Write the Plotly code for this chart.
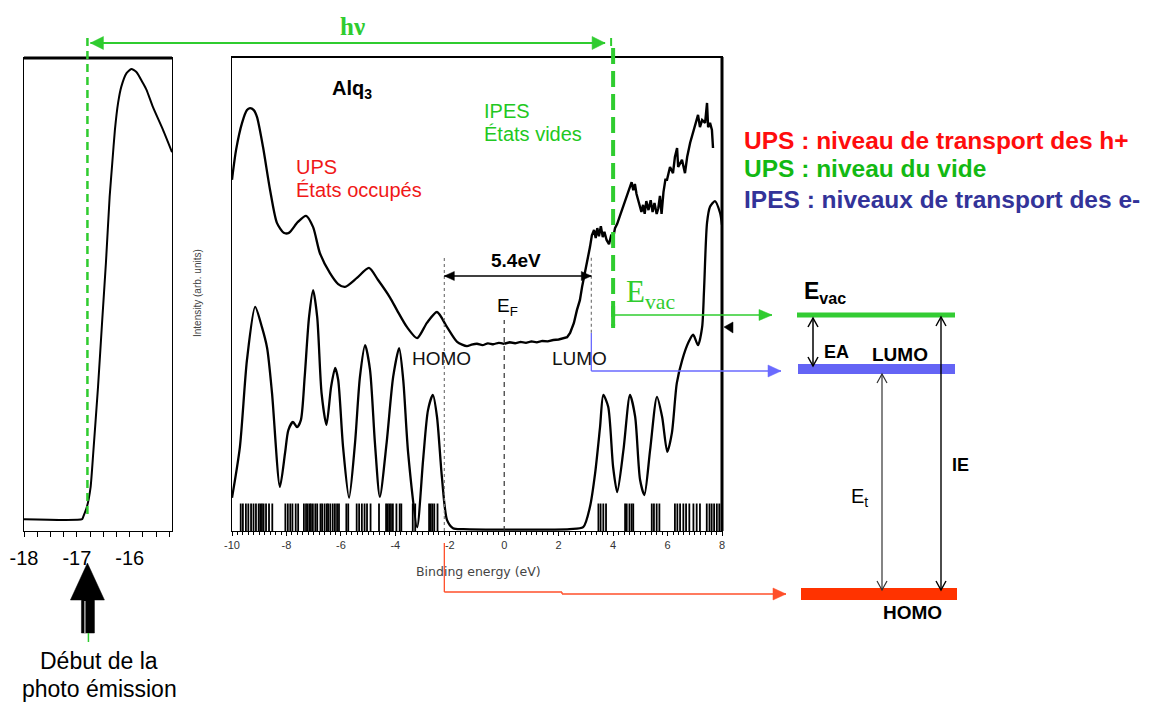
import math
import plotly.graph_objects as go

W, H = 1154, 704

# ---------------- spectra ----------------
# secondary-electron cut-off (left panel), intensity in arb. units
cutoff_ev = [-18.0, -16.9, -16.88, -16.81, -16.74, -16.69, -16.60, -16.52, -16.45, -16.38,
             -16.33, -16.28, -16.22, -16.16, -16.06, -15.97, -15.87, -15.75, -15.68, -15.56,
             -15.37, -15.20]
cutoff_int = [2.5, 2.5, 3.0, 5.1, 9.3, 16.5, 30.4, 44.6, 56.7, 70.6,
              77.8, 84.8, 90.5, 93.9, 96.8, 97.7, 97.0, 94.7, 93.2, 89.6,
              84.8, 80.1]

# UPS valence band (occupied states)
ups_ev = [-10.0, -9.85, -9.63, -9.45, -9.34, -9.2, -9.08, -8.86, -8.6, -8.35, -8.1, -7.91,
          -7.58, -7.28, -7.02, -6.77, -6.40, -6.1, -5.85, -5.41, -4.97, -4.64, -4.19, -3.94,
          -3.57, -3.2, -2.84, -2.47, -2.1, -1.73, -1.37, -1.2, -1.0, -0.8, -0.6, -0.4, -0.2, 0.0]
ups_int = [74.1, 80.4, 86.1, 88.8, 89.2, 88.8, 87.3, 81.0, 71.9, 65.0, 62.9, 62.9,
           65.2, 66.5, 64.1, 58.6, 54.4, 52.1, 51.5, 53.4, 55.5, 53.0, 49.2, 46.6,
           43.0, 40.7, 43.9, 46.2, 43.0, 39.9, 39.0, 39.3, 39.5, 39.2, 39.6, 39.4, 39.7, 39.5]

# IPES (unoccupied states)
ipes_ev = [0.0, 0.2, 0.4, 0.6, 0.8, 1.0, 1.2, 1.4, 1.6, 1.8, 2.0, 2.2, 2.31, 2.42, 2.56,
           2.67, 2.78, 2.86, 2.95, 3.04, 3.15, 3.22, 3.30, 3.36, 3.42, 3.48, 3.55, 3.62,
           3.68, 3.76, 3.85, 3.92, 4.00, 4.07, 4.15, 4.25, 4.35, 4.45, 4.55, 4.62, 4.68,
           4.74, 4.80, 4.86, 4.92, 4.98, 5.04, 5.10, 5.16, 5.22, 5.30, 5.38, 5.45, 5.52,
           5.60, 5.66, 5.72, 5.78, 5.85, 5.92, 5.98, 6.09, 6.20, 6.27, 6.35, 6.39, 6.53,
           6.64, 6.72, 6.83, 6.94, 7.08, 7.12, 7.19, 7.27, 7.38, 7.45, 7.49, 7.56, 7.63, 7.67]
ipes_int = [39.5, 39.8, 39.6, 39.9, 39.7, 40.0, 39.8, 40.1, 40.0, 40.3, 40.4, 40.7, 40.9, 41.8, 43.9,
            46.6, 48.7, 51.5, 54.0, 56.8, 59.9, 62.4, 63.5, 61.8, 63.9, 62.2, 64.3, 62.0,
            63.1, 61.4, 60.5, 62.2, 61.8, 63.9, 64.8, 66.5, 68.1, 69.8, 71.5, 72.8, 73.6,
            71.9, 73.2, 71.1, 69.8, 68.6, 67.3, 68.8, 66.9, 69.6, 67.7, 69.8, 67.3, 69.2,
            66.9, 68.1, 70.7, 66.9, 71.5, 74.1, 74.1, 76.8, 75.5, 78.9, 80.8, 76.8, 78.3,
            75.5, 78.9, 81.9, 84.0, 87.1, 87.8, 85.2, 86.7, 86.1, 90.3, 85.2, 86.1, 84.6, 80.8]

# calculated density of states (broadened)
dos_ev = [-10.0, -9.71, -9.45, -9.15, -8.9, -8.71, -8.53, -8.24, -8.05, -7.93, -7.76, -7.61,
          -7.47, -7.33, -7.17, -7.02, -6.87, -6.71, -6.53, -6.36, -6.21, -6.1, -5.92, -5.7,
          -5.48, -5.3, -5.11, -4.93, -4.75, -4.57, -4.32, -4.08, -3.86, -3.71, -3.53, -3.2,
          -2.98, -2.8, -2.62, -2.47, -2.29, -2.1, -1.88, -1.5, 2.4, 2.9, 3.15, 3.34, 3.52,
          3.64, 3.82, 4.0, 4.15, 4.38, 4.62, 4.81, 4.99, 5.15, 5.36, 5.61, 5.80, 5.99, 6.16,
          6.34, 6.54, 6.76, 6.94, 7.12, 7.27, 7.34, 7.45, 7.56, 7.74, 7.93, 8.0]
dos_int = [7.0, 17.7, 36.1, 47.3, 43.0, 38.6, 29.1, 9.3, 16.5, 21.3, 23.0, 21.9,
           23.4, 32.5, 45.1, 50.8, 45.1, 29.1, 22.4, 30.4, 34.4, 31.9, 17.7, 7.0,
           18.6, 32.5, 39.2, 34.0, 18.6, 7.2, 18.6, 32.5, 38.6, 31.9, 16.5, 0.8,
           15.0, 25.5, 28.7, 24.1, 11.4, 2.3, 0.6, 0.4, 0.4, 0.8, 5.1, 12.2, 21.9,
           28.7, 26.2, 13.5, 8.2, 17.1, 28.7, 24.1, 10.8, 7.6, 17.1, 28.3, 24.1, 16.7, 20.7,
           31.2, 36.1, 39.7, 41.4, 39.2, 43.0, 50.8, 65.0, 68.4, 69.6, 67.1, 64.6]

# molecular orbital eigenvalues (stick spectrum)
stick_ev = [-9.68, -9.60, -9.49, -9.40, -9.30, -9.21, -9.12, -9.02, -8.96, -8.90, -8.84, -8.75,
            -8.64, -8.52, -8.04, -7.95, -7.86, -7.78, -7.66, -7.57, -7.36, -7.28, -7.22, -7.15,
            -7.10, -7.03, -6.94, -6.87, -6.75, -6.69, -6.60, -6.52, -6.47, -6.39, -6.30, -6.22,
            -6.14, -6.07, -5.80, -5.73, -5.42, -5.33, -5.23, -5.13, -5.04, -4.91, -4.60, -4.34,
            -4.28, -4.22, -4.16, -4.09, -3.96, -3.84, -3.78, -3.36, -3.27, -2.76, -2.70, -2.64,
            -2.57, -2.45,
            3.46, 3.54, 3.64, 3.74, 4.44, 4.50, 4.60, 4.68, 4.74, 5.42, 5.50, 5.60, 5.70,
            6.27, 6.36, 6.46, 6.58, 6.68, 6.80, 6.95, 7.07, 7.19, 7.44, 7.54, 7.62, 7.71,
            7.81, 7.90, 7.99]
STICK_TOP = 5.8

main_ticks = [-10, -8, -6, -4, -2, 0, 2, 4, 6, 8]
main_ticktext = ["-10", "-8", "-6", "-4", "-2", "0", "2", "4", "6", "8"]
cut_ticks = [-18, -17, -16]
cut_ticktext = ["-18", "-17", "-16"]

# characteristic energies (eV)
homo_ev = -2.2
gap_ev = 5.4
lumo_ev = homo_ev + gap_ev
evac_ev = 4.0
fermi_ev = 0.0
onset_ev = -16.8

# ---------------- geometry (pixels) ----------------
EV_MIN, EV_MAX = -10, 8
CUT_MIN, CUT_MAX = -18, -15.2
M_L, M_R, M_T, M_B = 232, 722, 57, 531
C_L, C_R, C_T, C_B = 24, 172, 58, 531

SANS = "Liberation Sans, Arial, sans-serif"
SERIF = "Liberation Serif, Times New Roman, serif"
GREEN = "#2fcc2f"
BLUE = "#6a6aff"
RED = "#ff4f2a"


def X(p):
    return p / W


def Y(p):
    return 1 - p / H


def main_px(ev):
    return M_L + (ev - EV_MIN) / (EV_MAX - EV_MIN) * (M_R - M_L)


def main_py(v):
    return M_B - v / 100 * (M_B - M_T)


def cut_px(ev):
    return C_L + (ev - CUT_MIN) / (CUT_MAX - CUT_MIN) * (C_R - C_L)


fig = go.Figure()

fig.add_trace(go.Scatter(x=cutoff_ev, y=cutoff_int, xaxis="x2", yaxis="y2", mode="lines",
                         line=dict(color="black", width=2, shape="spline", smoothing=0.5),
                         hoverinfo="skip"))
fig.add_trace(go.Scatter(x=ups_ev, y=ups_int, mode="lines",
                         line=dict(color="black", width=2.3, shape="spline", smoothing=0.7),
                         hoverinfo="skip"))
fig.add_trace(go.Scatter(x=ipes_ev, y=ipes_int, mode="lines",
                         line=dict(color="black", width=2.4), hoverinfo="skip"))
fig.add_trace(go.Scatter(x=dos_ev, y=dos_int, mode="lines",
                         line=dict(color="black", width=2.3, shape="spline", smoothing=0.7),
                         hoverinfo="skip"))

sx, sy = [], []
for s in stick_ev:
    sx += [s, s, None]
    sy += [0, STICK_TOP, None]
fig.add_trace(go.Scatter(x=sx, y=sy, mode="lines", line=dict(color="black", width=1.8),
                         hoverinfo="skip"))

shapes = []
annos = []


def pline(x0, y0, x1, y1, color, width, dash=None):
    d = dict(type="line", xref="paper", yref="paper", x0=X(x0), y0=Y(y0), x1=X(x1), y1=Y(y1),
             line=dict(color=color, width=width))
    if dash:
        d["line"]["dash"] = dash
    shapes.append(d)


def head(xt, yt, xf, yf, length, half, color, filled=True, width=1.3):
    """Arrow head with its tip at (xt, yt), pointing away from (xf, yf)."""
    dx, dy = xt - xf, yt - yf
    n = math.hypot(dx, dy)
    ux, uy = dx / n, dy / n
    bx, by = xt - ux * length, yt - uy * length
    px_, py_ = -uy * half, ux * half
    pts = [(bx + px_, by + py_), (xt, yt), (bx - px_, by - py_)]
    path = "M " + " L ".join(f"{X(a):.5f},{Y(b):.5f}" for a, b in pts)
    if filled:
        shapes.append(dict(type="path", xref="paper", yref="paper", path=path + " Z",
                           fillcolor=color, line=dict(color=color, width=0.5)))
    else:
        shapes.append(dict(type="path", xref="paper", yref="paper", path=path,
                           line=dict(color=color, width=width)))


def arrow(x0, y0, x1, y1, color, width, length, half, both=False, filled=True):
    pline(x0, y0, x1, y1, color, width)
    head(x1, y1, x0, y0, length, half, color, filled, width)
    if both:
        head(x0, y0, x1, y1, length, half, color, filled, width)


def text(t, x, y, size, color="black", family=SANS, xanchor="center", angle=0):
    annos.append(dict(x=X(x), y=Y(y), xref="paper", yref="paper", text=t, showarrow=False,
                      xanchor=xanchor, yanchor="middle", textangle=angle,
                      font=dict(size=size, color=color, family=family)))


# panel frames (thick edges)
pline(C_L, C_T, C_R, C_T, "black", 3)
pline(M_R, M_T, M_R, M_B, "black", 3)
pline(M_L, M_T, M_R, M_T, "black", 1.8)

# reference lines inside the spectrum panel
shapes.append(dict(type="line", xref="x", yref="y", x0=fermi_ev, x1=fermi_ev, y0=0, y1=44.5,
                   line=dict(color="#333", width=1.2, dash="5px,4px")))
shapes.append(dict(type="line", xref="x", yref="y", x0=homo_ev, x1=homo_ev, y0=0, y1=57.8,
                   line=dict(color="#777", width=1.2, dash="dot")))
shapes.append(dict(type="line", xref="x", yref="y", x0=lumo_ev, x1=lumo_ev, y0=41.8, y1=58.2,
                   line=dict(color="#777", width=1.2, dash="dot")))

# photon energy span
x_on = cut_px(onset_ev)
x_vac = main_px(evac_ev)
arrow(x_on + 3, 43, x_vac - 8, 43, GREEN, 2, 13, 6.5, both=True)
pline(x_vac - 2, 38, x_vac - 2, 46, GREEN, 2)
text("<b>hν</b>", 352, 26, 25, GREEN, SERIF)
pline(x_on, 38, x_on, 515, GREEN, 2.5, "8px,5px")
pline(x_vac, 48, x_vac, 328, GREEN, 4, "16px,7px")
pline(x_vac, 306, x_vac, 326, GREEN, 4)

# onset marker arrow
path = "M " + " L ".join(f"{X(a):.5f},{Y(b):.5f}" for a, b in
                         [(x_on, 563), (x_on + 17, 600), (x_on + 7, 600), (x_on + 7, 633),
                          (x_on - 6, 633), (x_on - 6, 600), (x_on - 17, 600)]) + " Z"
shapes.append(dict(type="path", xref="paper", yref="paper", path=path,
                   fillcolor="black", line=dict(color="black", width=0.5)))
pline(x_on - 2.5, 601, x_on - 2.5, 633, "white", 1)
pline(x_on + 1, 633, x_on + 1, 642, GREEN, 1.5)
text("Début de la", 99, 661, 23)
text("photo émission", 99, 689, 23)

# gap arrow between HOMO and LUMO onsets
shapes.append(dict(type="line", xref="x", yref="y", x0=homo_ev, x1=lumo_ev, y0=53.8, y1=53.8,
                   line=dict(color="black", width=1.3)))
y_gap = main_py(53.8)
head(main_px(lumo_ev), y_gap, main_px(homo_ev), y_gap, 10, 4.5, "black")
head(main_px(homo_ev), y_gap, main_px(lumo_ev), y_gap, 10, 4.5, "black")

# connectors to the level diagram
x_lumo = main_px(lumo_ev)
x_homo = main_px(homo_ev)
arrow(x_vac, 315, 772, 315, GREEN, 1.5, 13, 5.5)
pline(x_lumo, 333, x_lumo, 371, BLUE, 1.3)
arrow(x_lumo, 371, 781, 371, BLUE, 1.3, 13, 6)
pline(x_homo, 543, x_homo, 592, RED, 1.3)
pline(x_homo, 592, 562, 592, RED, 1.3)
pline(562, 592, 562, 594, RED, 1.3)
arrow(562, 594, 786, 594, RED, 1.3, 13, 6)

tri = f"M {X(724):.5f},{Y(327):.5f} L {X(733):.5f},{Y(322):.5f} L {X(733):.5f},{Y(333):.5f} Z"
shapes.append(dict(type="path", xref="paper", yref="paper", path=tri, fillcolor="black",
                   line=dict(color="black", width=0.5)))

# spectrum panel labels
text("<b>Alq<sub>3</sub></b>", 352, 90, 20)
text("UPS", 294, 167, 20, "#f01818", xanchor="left")
text("États occupés", 294, 190, 20, "#f01818", xanchor="left")
text("IPES", 482, 111, 20, "#22c822", xanchor="left")
text("États vides", 482, 134, 20, "#22c822", xanchor="left")
text("<b>5.4eV</b>", 516, 260, 19)
text("E<sub>F</sub>", 507, 307, 19)
text("HOMO", 441, 359, 19, "#111")
text("LUMO", 579, 359, 19, "#111")
text("E<sub>vac</sub>", 624, 294, 31, GREEN, SERIF, xanchor="left")
text("Intensity (arb. units)", 197, 293, 10, "#444", angle=-90)
text("Binding energy (eV)", 478, 571, 12.5, "#444", family="DejaVu Sans, sans-serif")

# legend text
text("<b>UPS : niveau de transport des h+</b>", 742, 140, 24.5, "#ff0d0d", xanchor="left")
text("<b>UPS : niveau du vide</b>", 742, 169, 24.5, "#13b913", xanchor="left")
text("<b>IPES : niveaux de transport des e-</b>", 742, 199, 24.5, "#333399", xanchor="left")

# energy level diagram
pline(797, 315, 955, 315, "#33cc33", 5)
pline(798, 369, 955, 369, "#6464f5", 10)
pline(801, 594, 957, 594, "#ff3300", 12)
arrow(813, 318, 813, 366, "black", 1.5, 9, 5, both=True, filled=False)
arrow(882, 374, 882, 590, "#333", 1.2, 9, 5, both=True, filled=False)
arrow(941, 317, 941, 590, "black", 1.4, 9, 5, both=True, filled=False)
text("<b>E<sub>vac</sub></b>", 802, 292, 23, xanchor="left")
text("<b>EA</b>", 822, 352, 18, xanchor="left")
text("<b>LUMO</b>", 900, 354, 19)
text("E<sub>t</sub>", 849, 497, 20, xanchor="left")
text("<b>IE</b>", 950, 465, 18, xanchor="left")
text("<b>HOMO</b>", 912, 612, 19)

fig.update_layout(
    width=W, height=H, margin=dict(l=0, r=0, t=0, b=0, autoexpand=False),
    paper_bgcolor="white", plot_bgcolor="white", showlegend=False,
    shapes=shapes, annotations=annos,
    xaxis=dict(domain=[X(M_L), X(M_R)], range=[EV_MIN, EV_MAX], anchor="y", automargin=False,
               tickvals=main_ticks, ticktext=main_ticktext, ticks="outside", ticklen=4,
               tickcolor="black", tickfont=dict(size=11, color="#333", family=SANS),
               showline=True, linecolor="black", linewidth=1.3, mirror=True,
               showgrid=False, zeroline=False,
               minor=dict(dtick=0.2, ticks="outside", ticklen=3, tickcolor="black")),
    yaxis=dict(domain=[Y(M_B), Y(M_T)], range=[0, 100], anchor="x", showticklabels=False,
               automargin=False,
               ticks="", showline=True, linecolor="black", linewidth=1.3, mirror=True,
               showgrid=False, zeroline=False),
    xaxis2=dict(domain=[X(C_L), X(C_R)], range=[CUT_MIN, CUT_MAX], anchor="y2",
                automargin=False,
                tickvals=cut_ticks, ticktext=cut_ticktext, ticks="outside", ticklen=5,
                tickcolor="black", tickfont=dict(size=20, color="black", family=SANS),
                ticklabelstandoff=4,
                showline=True, linecolor="black", linewidth=1.3, mirror=True,
                showgrid=False, zeroline=False,
                minor=dict(dtick=0.25, ticks="outside", ticklen=5, tickcolor="black")),
    yaxis2=dict(domain=[Y(C_B), Y(C_T)], range=[0, 100], anchor="x2", showticklabels=False,
                automargin=False,
                ticks="", showline=True, linecolor="black", linewidth=1.3, mirror=True,
                showgrid=False, zeroline=False),
)

fig.write_html("out.html")
